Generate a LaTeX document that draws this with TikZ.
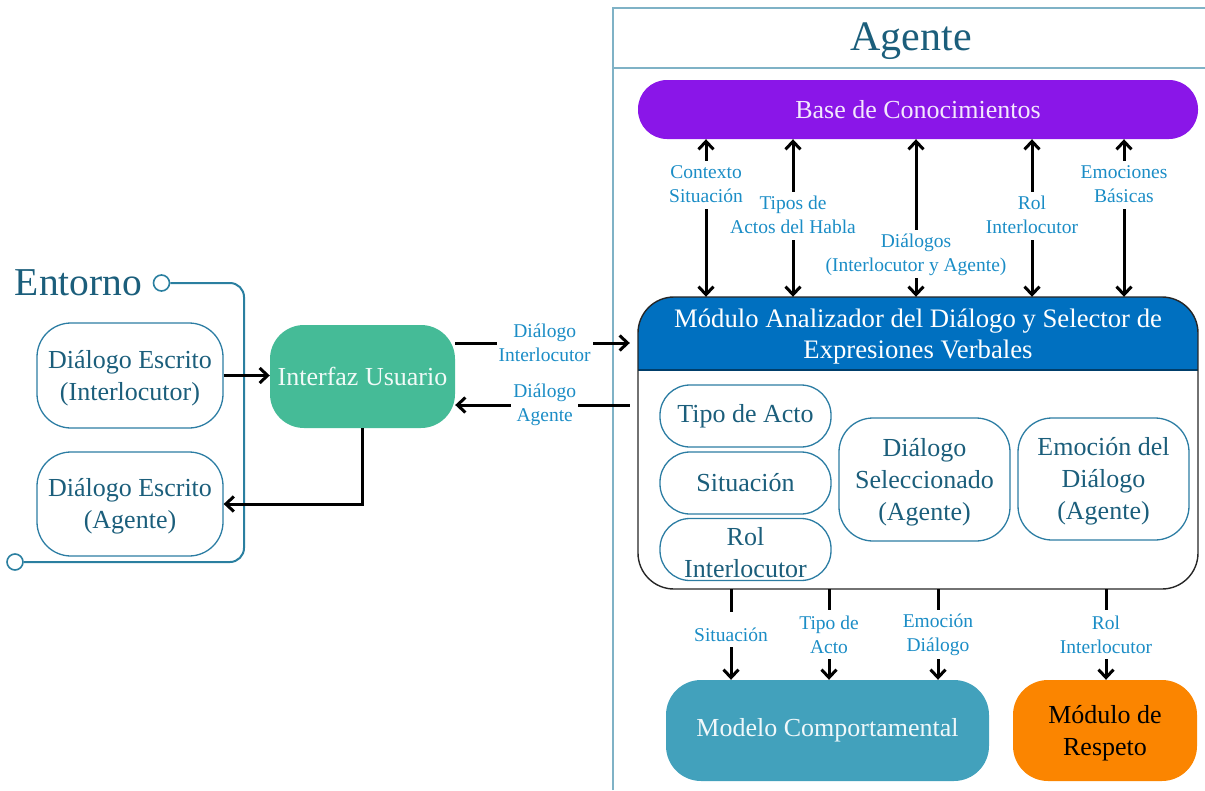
\documentclass[tikz,border=0pt]{standalone}
\usepackage{fontspec}
\setmainfont{Liberation Serif}
\usetikzlibrary{arrows.meta,calc}

\definecolor{frameblue}{HTML}{7FB2C6}
\definecolor{tealtext}{HTML}{1B5E7B}
\definecolor{tealline}{HTML}{2C7DA3}
\definecolor{envline}{HTML}{2A7FA0}
\definecolor{lblblue}{HTML}{1B8DC6}
\definecolor{kbpurple}{HTML}{8A16E8}
\definecolor{modblue}{HTML}{0070C0}
\definecolor{iugreen}{HTML}{45BB97}
\definecolor{mcblue}{HTML}{42A1BC}
\definecolor{resporange}{HTML}{FB8500}

% taller first line, so that multi-line box texts sit a little lower
\newcommand{\firstline}{\rule{0pt}{0.9em}}

\tikzset{
  boxfont/.style={font=\fontsize{26}{32}\selectfont},
  outlinebox/.style={draw=tealline, line width=1.3pt, text=tealtext, align=center,
                     inner sep=0pt, boxfont},
  solidbox/.style={align=center, inner sep=0pt, boxfont},
  lbl/.style={fill=white, text=lblblue, align=center, inner sep=2pt,
              font=\fontsize{19.5}{24}\selectfont},
  lbltext/.style={text=lblblue, align=center, inner sep=0pt,
              font=\fontsize{19.5}{24}\selectfont},
  vgap/.style={fill=white, inner sep=0pt, minimum width=12pt, minimum height=#1},
  arrowtip/.tip={Straight Barb[length=8pt,width=15pt]},
  arr/.style={line width=3pt, -arrowtip},
  dblarr/.style={line width=3pt, arrowtip-arrowtip},
  envring/.style={circle, draw=envline, line width=1.6pt, fill=white,
                  minimum size=16pt, inner sep=0pt},
}

\begin{document}
\begin{tikzpicture}[x=1pt,y=-1pt]
\useasboundingbox (0,0) rectangle (1205,790);

% ---------- Agente frame ----------
\draw[frameblue, line width=1.5pt] (613,790) -- (613,8) -- (1205,8);
\draw[frameblue, line width=1.5pt] (613,68) -- (1205,68);
\node[anchor=base, text=tealtext, font=\fontsize{42}{44}\selectfont] (agtitle) at (911,50) {Agente};

% ---------- Entorno ----------
\node[text=tealtext, font=\fontsize{39.5}{40}\selectfont] (ent) at (78.5,283) {Entorno};
\node[envring] (ring1) at (161.5,283) {};
\node[envring] (ring2) at (15,562) {};
\draw[envline, line width=2pt, rounded corners=14pt] (ring1.east) -| (244,562) -- (ring2.east);

\node[outlinebox, rounded corners=34pt, minimum width=186pt, minimum height=105pt]
  (dei) at (130,375.5) {\firstline Diálogo Escrito\\(Interlocutor)};
\node[outlinebox, rounded corners=34pt, minimum width=186pt, minimum height=104pt]
  (dea) at (130,504) {\firstline Diálogo Escrito\\(Agente)};

% ---------- Interfaz ----------
\node[solidbox, fill=iugreen, text=white!92!iugreen, rounded corners=34pt,
      minimum width=185pt, minimum height=103pt] (iu) at (362.5,376.5) {Interfaz Usuario};

% ---------- Base de conocimientos ----------
\node[solidbox, fill=kbpurple, text=white!90!kbpurple, rounded corners=29pt,
      minimum width=560pt, minimum height=59pt] (kb) at (918,109.5) {Base de Conocimientos};

% ---------- Analyzer module ----------
\node[minimum width=560pt, minimum height=292pt, inner sep=0pt] (mod) at (918,443) {};
\begin{scope}
  \clip[rounded corners=36pt] (638,297) rectangle (1198,589);
  \fill[modblue] (638,297) rectangle (1198,370);
\end{scope}
\draw[modblue!55!black, line width=1.5pt] (638,370) -- (1198,370);
\draw[black!85, line width=1.4pt, rounded corners=36pt] (638,297) rectangle (1198,589);
\node[text=white, align=center, font=\fontsize{26.7}{31}\selectfont] (modtitle) at (918,334)
  {\firstline Módulo Analizador del Diálogo y Selector de\\Expresiones Verbales};

\node[outlinebox, rounded corners=30pt, minimum width=171pt, minimum height=62pt]
  (tipo) at (745.5,416) {Tipo de Acto};
\node[outlinebox, rounded corners=30pt, minimum width=171pt, minimum height=62pt]
  (sit) at (745.5,483) {Situación};
\node[outlinebox, rounded corners=30pt, minimum width=171pt, minimum height=62pt]
  (rol) at (745.5,549.5) {\firstline Rol\\Interlocutor};
\node[outlinebox, rounded corners=34pt, minimum width=171pt, minimum height=123pt]
  (dsel) at (924.5,479.5) {\firstline Diálogo\\Seleccionado\\(Agente)};
\node[outlinebox, rounded corners=34pt, minimum width=171pt, minimum height=122pt]
  (emo) at (1103.5,479) {\firstline Emoción del\\Diálogo\\(Agente)};

% ---------- Output modules ----------
\node[solidbox, fill=mcblue, text=white!92!mcblue, rounded corners=35pt,
      minimum width=323pt, minimum height=101pt] (mc) at (827.5,730.5) {Modelo Comportamental};
\node[solidbox, fill=resporange, text=black, rounded corners=35pt,
      minimum width=184pt, minimum height=101pt] (resp) at (1105,730.5) {\firstline Módulo de\\Respeto};

% ---------- Connectors: Entorno <-> Interfaz ----------
\draw[arr] (dei.east) -- (dei.east -| iu.west);
\draw[arr] (iu.south) |- (dea.east);

% ---------- Connectors: Interfaz <-> module ----------
\coordinate (inY) at ([yshift=33.5pt]iu.east);
\coordinate (outY) at ([yshift=-28.5pt]iu.east);
\draw[arr, shorten >=8pt] (inY) -- (inY -| mod.west)
  node[lbl, pos=0.49] {Diálogo\\Interlocutor};
\draw[arr, shorten <=8pt] (outY -| mod.west) -- (outY)
  node[lbl, pos=0.51] {Diálogo\\Agente};

% ---------- Connectors: knowledge base <-> module ----------
\coordinate (k1) at (706,0);
\coordinate (k2) at (793,0);
\coordinate (k3) at (916,0);
\coordinate (k4) at (1032,0);
\coordinate (k5) at (1124,0);
\draw[dblarr] (kb.south -| k1) -- (mod.north -| k1)
  node[vgap=48pt, pos=0.288] {} node[lbltext, pos=0.285] {Contexto\\Situación};
\draw[dblarr] (kb.south -| k2) -- (mod.north -| k2)
  node[vgap=48pt, pos=0.487] {} node[lbltext, pos=0.48] {Tipos de\\Actos del Habla};
\draw[dblarr] (kb.south -| k3) -- (mod.north -| k3)
  node[vgap=48pt, pos=0.728] {} node[lbltext, pos=0.735] {Diálogos\\(Interlocutor y Agente)};
\draw[dblarr] (kb.south -| k4) -- (mod.north -| k4)
  node[vgap=48pt, pos=0.487] {} node[lbltext, pos=0.48] {Rol\\Interlocutor};
\draw[dblarr] (kb.south -| k5) -- (mod.north -| k5)
  node[vgap=48pt, pos=0.288] {} node[lbltext, pos=0.285] {Emociones\\Básicas};

% ---------- Connectors: module -> output modules ----------
\coordinate (m1) at (731,0);
\coordinate (m2) at (829,0);
\coordinate (m3) at (938,0);
\coordinate (m4) at (1106,0);
\draw[arr] (mod.south -| m1) -- (mc.north -| m1)
  node[vgap=35pt, pos=0.45] {} node[lbltext, pos=0.5] {Situación};
\draw[arr] (mod.south -| m2) -- (mc.north -| m2)
  node[vgap=49pt, pos=0.5] {} node[lbltext, pos=0.5] {Tipo de\\Acto};
\draw[arr] (mod.south -| m3) -- (mc.north -| m3)
  node[vgap=49pt, pos=0.5] {} node[lbltext, pos=0.5] {Emoción\\Diálogo};
\draw[arr] (mod.south -| m4) -- (resp.north -| m4)
  node[vgap=49pt, pos=0.5] {} node[lbltext, pos=0.5] {Rol\\Interlocutor};

\end{tikzpicture}
\end{document}
